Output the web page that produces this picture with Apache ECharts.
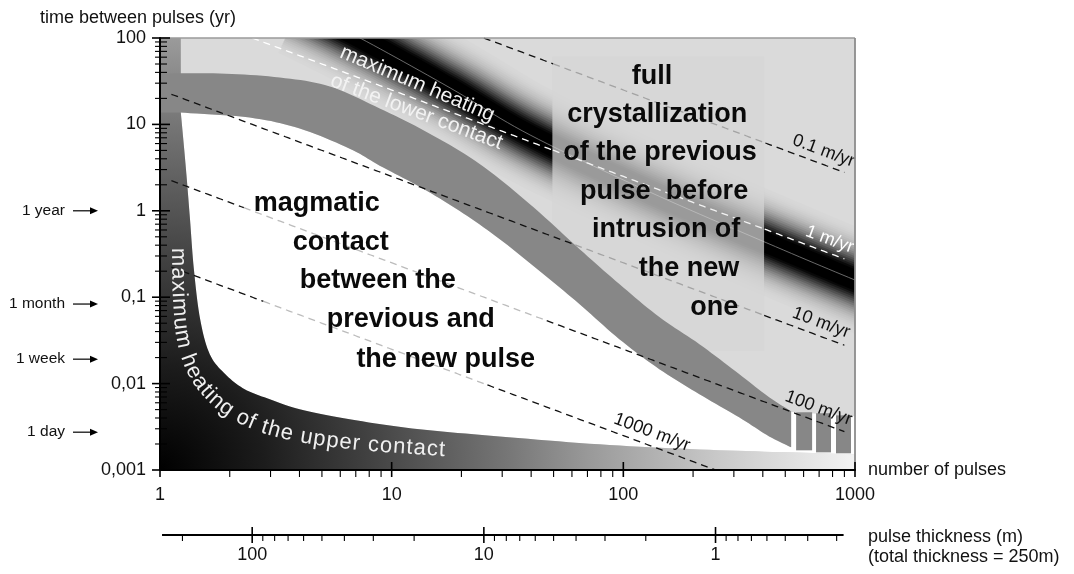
<!DOCTYPE html>
<html>
<head>
<meta charset="utf-8">
<script src="https://cdn.jsdelivr.net/npm/echarts@6/dist/echarts.min.js"></script>
<style>
  html, body { margin: 0; padding: 0; background: #fff; }
  #chart { width: 1074px; height: 574px; }
</style>
</head>
<body>
<div id="chart"></div>
<script>
// ---- axes ----
const xTickValues = [1, 10, 100, 1000];
const xTickLabels = ['1', '10', '100', '1000'];
const yTickValues = [0.001, 0.01, 0.1, 1, 10, 100];
const yTickLabels = ['0,001', '0,01', '0,1', '1', '10', '100'];
const thicknessTickValues = [100, 10, 1];
const thicknessTickLabels = ['100', '10', '1'];
const totalThickness = 250; // m

// ---- emplacement rates: time between pulses = (250 m / N) / rate ----
const rates = [0.1, 1, 10, 100, 1000];
const rateLabels = ['0.1 m/yr', '1 m/yr', '10 m/yr', '100 m/yr', '1000 m/yr'];
const rateStartN = [25, 2.5, 1.12, 1.12, 1.12];
const rateEndN = [900, 900, 900, 900, 250];
const rateLabelN = [700, 743, 683, 665, 127];

// ---- crystallisation band: [number of pulses, years] ----
const bandUpper = [[1, 38.8], [1.81, 38.8], [3.29, 34.9], [5.41, 27.5], [8.88, 15.3], [14.6, 7.82],
  [23.9, 3.51], [39.3, 1.21], [64.6, 0.362], [96.1, 0.142], [143, 0.0589], [213, 0.0286],
  [316, 0.0129], [426, 0.00695], [530, 0.00479]];
const bandLower = [[1.23, 13.7], [2.44, 12.0], [4.01, 8.94], [6.59, 5.24], [8.88, 3.33], [13.2, 1.90],
  [19.6, 1.0], [29.2, 0.473], [43.5, 0.201], [64.6, 0.0834], [96.1, 0.0327], [143, 0.0147],
  [213, 0.00754], [316, 0.00407], [426, 0.00245], [530, 0.00183]];
// blocks beyond the band end: [N from, N to, years low, years high]
const bandBlocks = [[557, 653, 0.00169, 0.00466], [679, 788, 0.00160, 0.00454], [828, 961, 0.00156, 0.00430]];
// top of the open (magmatic contact) field right of the band end
const openTop = [[530, 0.0047], [1000, 0.0042]];

// ---- inner edge of the upper-contact heating zone ----
const upperContactTop = [[1.23, 100]];
const upperContactEdge = [[1.23, 13.7], [1.294, 3.07], [1.347, 0.807], [1.40, 0.212],
  [1.49, 0.0558], [1.64, 0.0219], [1.91, 0.0129], [2.32, 0.00861], [2.98, 0.00659], [4.01, 0.00505],
  [6.59, 0.00386], [13.2, 0.00296], [29.2, 0.00245], [78.8, 0.00198], [213, 0.00173],
  [519, 0.00160], [1000, 0.00152]];

// ---- axis of maximum heating of the lower contact ----
const lowerContactAxis = [[4.02, 222], [7.30, 100], [17.9, 26.4], [39.6, 7.54], [130, 1.65],
  [417, 0.424], [1000, 0.158], [1910, 0.0791]];

// ---- time marks on the left ----
const timeMarks = ['1 year', '1 month', '1 week', '1 day'];
const timeMarkValues = [1, 1 / 12, 7 / 365, 1 / 365];

// ---- texts ----
const magmaticText = ['magmatic', 'contact', 'between the', 'previous and', 'the new pulse'];
const crystText = ['full', 'crystallization', 'of the previous', 'pulse  before', 'intrusion of', 'the new', 'one'];
const lowerContactText = ['maximum heating', 'of the lower contact'];
const upperContactText = 'maximum heating of the upper contact';

// ---- placement of annotations (data coordinates) ----
const layout = {
  crystBox: [[49.4, 61.2], [405, 0.0238]],
  magWash: [[2.21, 1.80], [45.7, 1.80], [45.7, 0.0098], [3.29, 0.0098]],
  magmaticAnchors: [[4.75, 1.21], [6.03, 0.425], [8.71, 0.154], [12.1, 0.0544], [17.1, 0.0192]],
  crystAnchors: [[133, 35.4], [140, 12.9], [144, 4.67], [150, 1.69], [153, 0.600], [192, 0.212], [247, 0.075]],
  lowerContactAnchors: [[12.9, 29.4], [12.8, 13.9]],
  lowerContactAngles: [23, 20.5],
  upperContactPath: [[1.115, 0.371], [1.127, 0.0929], [1.172, 0.0320], [1.294, 0.0136], [1.532, 0.0070],
    [1.964, 0.0040], [2.70, 0.00268], [4.01, 0.00205], [6.59, 0.00170], [10.8, 0.00153], [16.9, 0.00141]],
  rateLabelOffset: 13,
  thicknessAxisOffset: 65
};

const FONT = '"Liberation Sans", Arial, Helvetica, sans-serif';
const lg = Math.log10;
const mctx = document.createElement('canvas').getContext('2d');
function textWidth(s, size, weight) {
  mctx.font = (weight || 'normal') + ' ' + size + 'px ' + FONT;
  return mctx.measureText(s).width;
}
function interpLogT(arr, N) {
  const x = lg(N);
  if (x < lg(arr[0][0]) || x > lg(arr[arr.length - 1][0])) return null;
  for (let i = 0; i < arr.length - 1; i++) {
    const x0 = lg(arr[i][0]), x1 = lg(arr[i + 1][0]);
    if (x >= x0 && x <= x1) {
      const f = x1 === x0 ? 0 : (x - x0) / (x1 - x0);
      return lg(arr[i][1]) + f * (lg(arr[i + 1][1]) - lg(arr[i][1]));
    }
  }
  return null;
}
function inPoly(p, poly) {
  let inside = false;
  for (let i = 0, j = poly.length - 1; i < poly.length; j = i++) {
    const xi = poly[i][0], yi = poly[i][1], xj = poly[j][0], yj = poly[j][1];
    if (((yi > p[1]) !== (yj > p[1])) && (p[0] < (xj - xi) * (p[1] - yi) / (yj - yi) + xi)) inside = !inside;
  }
  return inside;
}
// Catmull-Rom curve through screen points
function curve(pts, n) {
  n = n || 10;
  if (pts.length < 3) return pts.slice();
  const out = [];
  for (let i = 0; i < pts.length - 1; i++) {
    const p0 = pts[Math.max(0, i - 1)], p1 = pts[i], p2 = pts[i + 1], p3 = pts[Math.min(pts.length - 1, i + 2)];
    for (let k = 0; k < n; k++) {
      const t = k / n, t2 = t * t, t3 = t2 * t;
      out.push([0, 1].map(d => 0.5 * ((2 * p1[d]) + (-p0[d] + p2[d]) * t +
        (2 * p0[d] - 5 * p1[d] + 4 * p2[d] - p3[d]) * t2 + (-p0[d] + 3 * p1[d] - 3 * p2[d] + p3[d]) * t3)));
    }
  }
  out.push(pts[pts.length - 1]);
  return out;
}
function tickLabel(values, labels) {
  return function (v) {
    for (let i = 0; i < values.length; i++) {
      if (Math.abs(lg(v) - lg(values[i])) < 1e-6) return labels[i];
    }
    return '';
  };
}
const one = [[1, 1]];
function customSeries(z, renderItem, extra) {
  return Object.assign({
    type: 'custom', coordinateSystem: 'cartesian2d', xAxisIndex: 0, yAxisIndex: 0,
    data: one, z: z, silent: true, animation: false, renderItem: renderItem
  }, extra || {});
}
const toPx = (api, arr) => arr.map(p => api.coord(p));

// soft dark ridge of maximum lower-contact heating
function renderLowerContact(params, api) {
  const pts = curve(toPx(api, lowerContactAxis), 12);
  const children = [];
  const profile = d => Math.min(1, 1.2 * Math.exp(-Math.pow(d / 23, 2)));
  let prevT = 1;
  for (let w = 50; w >= 2; w -= 2) {
    const T = 1 - profile(w - 1);
    const alpha = w <= 4 ? 1 : Math.max(0, 1 - T / prevT);
    prevT = T;
    if (alpha <= 0.001) continue;
    children.push({
      type: 'polyline', shape: { points: pts },
      style: { stroke: 'rgba(0,0,0,' + alpha.toFixed(4) + ')', lineWidth: 2 * w, fill: null, lineJoin: 'round' }
    });
    if (prevT <= 0) break;
  }
  children.push({ type: 'polyline', shape: { points: pts },
    style: { stroke: 'rgba(150,150,150,0.7)', lineWidth: 1, fill: null } });
  return { type: 'group', children: children };
}

function renderCrystBox(params, api) {
  const a = api.coord(layout.crystBox[0]), b = api.coord(layout.crystBox[1]);
  return { type: 'rect', shape: { x: a[0], y: a[1], width: b[0] - a[0], height: b[1] - a[1] },
    style: { fill: 'rgba(213,213,213,0.72)' } };
}

function renderOpenField(params, api) {
  const lower = curve(toPx(api, bandLower));
  const inner = curve(toPx(api, upperContactEdge)).reverse();
  const pts = lower.concat(toPx(api, openTop), inner);
  return { type: 'polygon', shape: { points: pts }, style: { fill: '#ffffff' } };
}

function renderUpperContact(params, api) {
  const pts = toPx(api, [[1, 100]].concat(upperContactTop))
    .concat(curve(toPx(api, upperContactEdge)), toPx(api, [[1000, 0.001], [1, 0.001]]));
  const c = api.coord([1, 0.001]);
  const e = api.coord([1000, 0.001]);
  const r = Math.abs(e[0] - c[0]);
  const grad = new echarts.graphic.RadialGradient(c[0], c[1], r, [
    { offset: 0, color: '#000000' }, { offset: 0.15, color: '#1c1c1c' }, { offset: 0.3, color: '#414141' },
    { offset: 0.5, color: '#767676' }, { offset: 0.62, color: '#9a9a9a' }, { offset: 0.8, color: '#c8c8c8' },
    { offset: 1, color: '#f3f3f3' }], true);
  return { type: 'polygon', shape: { points: pts }, style: { fill: grad } };
}

function renderBand(params, api) {
  const upper = curve(toPx(api, bandUpper));
  const lower = curve(toPx(api, bandLower)).reverse();
  const pts = upper.concat(lower, [api.coord([1, 13.7])]);
  const children = [{ type: 'polygon', shape: { points: pts }, style: { fill: '#878787' } }];
  bandBlocks.forEach(b => {
    const a = api.coord([b[0], b[3]]), c = api.coord([b[1], b[2]]);
    children.push({ type: 'rect', shape: { x: a[0], y: a[1], width: c[0] - a[0], height: c[1] - a[1] },
      style: { fill: '#878787' } });
  });
  return { type: 'group', children: children };
}

// dashed iso-rate lines, lighter where they run under the text boxes
function renderRates(params, api) {
  const i = params.dataIndex;
  const r = rates[i];
  const white = r === 1;
  const magPoly = toPx(api, layout.magWash);
  const c0 = api.coord(layout.crystBox[0]), c1 = api.coord(layout.crystBox[1]);
  const steps = 260;
  const a = lg(rateStartN[i]), b = lg(rateEndN[i]);
  const runs = [];
  let cur = null;
  for (let k = 0; k <= steps; k++) {
    const N = Math.pow(10, a + (b - a) * k / steps);
    const t = totalThickness / (N * r);
    const p = api.coord([N, t]);
    const lt = lg(t);
    const lo = interpLogT(bandLower, N), up = interpLogT(bandUpper, N);
    let state = 0;
    if (inPoly(p, magPoly) && lo !== null && lt < lo) state = 1;
    else if (p[0] >= c0[0] && p[0] <= c1[0] && p[1] >= c0[1] && p[1] <= c1[1] && (up === null || lt > up)) state = 2;
    if (!cur || cur.state !== state) {
      if (cur) cur.pts.push(p);
      cur = { state: state, pts: [p] };
      runs.push(cur);
    } else cur.pts.push(p);
  }
  const colors = white ? ['#ffffff', '#ffffff', '#f2f2f2'] : ['#111111', '#bcbcbc', '#a3a3a3'];
  const children = runs.map(run => ({
    type: 'polyline', shape: { points: run.pts },
    style: { stroke: colors[run.state], lineWidth: 1.3, lineDash: [7, 5], fill: null }
  }));
  // label along the line
  const N = rateLabelN[i];
  const t = totalThickness / (N * r);
  const p = api.coord([N, t]);
  const q = api.coord([N * 1.2, t / 1.2]);
  let dx = q[0] - p[0], dy = q[1] - p[1];
  const len = Math.hypot(dx, dy); dx /= len; dy /= len;
  const off = layout.rateLabelOffset;
  children.push({
    type: 'text', x: p[0] + dy * off, y: p[1] - dx * off, rotation: -Math.atan2(dy, dx),
    style: { text: rateLabels[i], fill: white ? '#ffffff' : '#111111', fontSize: 18, fontFamily: FONT,
      align: 'center', verticalAlign: 'middle' }
  });
  return { type: 'group', children: children };
}

function renderTexts(params, api) {
  const children = [];
  magmaticText.forEach((s, k) => {
    const p = api.coord(layout.magmaticAnchors[k]);
    children.push({ type: 'text', x: p[0], y: p[1], style: { text: s, fill: '#0a0a0a', fontSize: 27,
      fontWeight: 'bold', fontFamily: FONT, align: 'center', verticalAlign: 'middle' } });
  });
  crystText.forEach((s, k) => {
    const p = api.coord(layout.crystAnchors[k]);
    children.push({ type: 'text', x: p[0], y: p[1], style: { text: s, fill: '#0a0a0a', fontSize: 27,
      fontWeight: 'bold', fontFamily: FONT, align: 'center', verticalAlign: 'middle' } });
  });
  lowerContactText.forEach((s, k) => {
    const p = api.coord(layout.lowerContactAnchors[k]);
    children.push({ type: 'text', x: p[0], y: p[1], rotation: -layout.lowerContactAngles[k] * Math.PI / 180,
      style: { text: s, fill: '#f2f2f2', fontSize: 21, fontFamily: FONT, align: 'center', verticalAlign: 'middle' } });
  });
  // text bent along the upper-contact zone
  const pts = curve(toPx(api, layout.upperContactPath), 8);
  const cum = [0];
  for (let k = 1; k < pts.length; k++) cum.push(cum[k - 1] + Math.hypot(pts[k][0] - pts[k - 1][0], pts[k][1] - pts[k - 1][1]));
  const total = cum[cum.length - 1];
  const at = s => {
    s = Math.max(0, Math.min(total, s));
    let k = 1;
    while (k < cum.length - 1 && cum[k] < s) k++;
    const f = (s - cum[k - 1]) / ((cum[k] - cum[k - 1]) || 1);
    return [pts[k - 1][0] + f * (pts[k][0] - pts[k - 1][0]), pts[k - 1][1] + f * (pts[k][1] - pts[k - 1][1])];
  };
  const size = 22;
  const chars = upperContactText.split('');
  const widths = chars.map(c => textWidth(c, size));
  const sumW = widths.reduce((x, y) => x + y, 0);
  const gap = Math.min(1.5, Math.max(0, (total - sumW) / (chars.length - 1)));
  let s = 0;
  chars.forEach((c, k) => {
    const w = widths[k];
    const pA = at(s), pB = at(s + w), pM = at(s + w / 2);
    let dx = pB[0] - pA[0], dy = pB[1] - pA[1];
    const len = Math.hypot(dx, dy) || 1; dx /= len; dy /= len;
    if (c !== ' ') {
      children.push({ type: 'text', x: pM[0] + dy * size * 0.32, y: pM[1] - dx * size * 0.32,
        rotation: -Math.atan2(dy, dx),
        style: { text: c, fill: '#f0f0f0', fontSize: size, fontFamily: FONT, align: 'center', verticalAlign: 'middle' } });
    }
    s += w + gap;
  });
  return { type: 'group', children: children };
}

// frame, tick marks, pulse-thickness scale and time marks
function renderFrame(params, api) {
  const cs = params.coordSys;
  const x0 = cs.x, yb = cs.y + cs.height, xr = cs.x + cs.width;
  const ch = [];
  const L = (x1, y1, x2, y2, w, c) => ch.push({ type: 'line', shape: { x1: x1, y1: y1, x2: x2, y2: y2 },
    style: { stroke: c || '#000', lineWidth: w || 1.1 } });
  L(x0, cs.y, xr, cs.y, 1.6, '#9a9a9a');
  L(xr, cs.y, xr, yb, 1.8, '#8c8c8c');
  yTickValues.forEach((v, k) => {
    const y = api.coord([1, v])[1];
    L(x0 - 8, y, x0 + 10, y, 1.6);
    if (k < yTickValues.length - 1) for (let m = 2; m <= 9; m++) {
      const yy = api.coord([1, m * v])[1];
      L(x0 - 5, yy, x0 + 7, yy, 1.1);
    }
  });
  xTickValues.forEach((v, k) => {
    const x = api.coord([v, 1])[0];
    L(x, yb - 8, x, yb + 7, 1.6);
    if (k < xTickValues.length - 1) for (let m = 2; m <= 9; m++) {
      const xx = api.coord([m * v, 1])[0];
      L(xx, yb, xx, yb + 7, 1.1);
    }
  });
  const ya = yb + layout.thicknessAxisOffset;
  const xs = api.coord([totalThickness / 245, 1])[0], xe = api.coord([totalThickness / 0.28, 1])[0];
  L(xs, ya, xe, ya, 1.8);
  thicknessTickValues.forEach(v => {
    const x = api.coord([totalThickness / v, 1])[0];
    L(x, ya - 8, x, ya + 8, 1.6);
  });
  const minorTh = [200];
  [100, 10, 1].forEach(d => { for (let m = 9; m >= 2; m--) { const v = m * d / 10; if (v >= 0.3) minorTh.push(v); } });
  minorTh.forEach(v => {
    const x = api.coord([totalThickness / v, 1])[0];
    L(x, ya, x, ya + 6, 1.1);
  });
  timeMarks.forEach((s, k) => {
    const y = api.coord([1, timeMarkValues[k]])[1];
    ch.push({ type: 'text', x: 65, y: y, style: { text: s, fill: '#111', fontSize: 15.5, fontFamily: FONT,
      align: 'right', verticalAlign: 'middle' } });
    L(73, y, 91, y, 1.2);
    ch.push({ type: 'polygon', shape: { points: [[90, y - 3.5], [98, y], [90, y + 3.5]] }, style: { fill: '#000' } });
  });
  return { type: 'group', children: ch };
}

const chart = echarts.init(document.getElementById('chart'), null, { renderer: 'canvas' });
chart.setOption({
  animation: false,
  backgroundColor: '#ffffff',
  textStyle: { fontFamily: FONT },
  grid: { left: 160, top: 38, width: 695, height: 432, show: true, backgroundColor: '#dadada', borderWidth: 0 },
  xAxis: [
    {
      type: 'log', min: 1, max: 1000, z: 20,
      axisLine: { lineStyle: { color: '#000', width: 2 } },
      axisTick: { show: false }, splitLine: { show: false },
      axisLabel: { formatter: tickLabel(xTickValues, xTickLabels), color: '#111', fontSize: 18, margin: 16 },
      name: 'number of pulses', nameLocation: 'end', nameGap: 13,
      nameTextStyle: { color: '#111', fontSize: 18, align: 'left', verticalAlign: 'middle' }
    },
    {
      type: 'log', min: totalThickness / 1000, max: totalThickness, inverse: true, position: 'bottom',
      offset: 65, z: 20,
      axisLine: { show: false }, axisTick: { show: false }, splitLine: { show: false },
      axisLabel: { formatter: tickLabel(thicknessTickValues, thicknessTickLabels), color: '#111', fontSize: 18, margin: 11 }
    }
  ],
  yAxis: {
    type: 'log', min: 0.001, max: 100, z: 20,
    axisLine: { lineStyle: { color: '#000', width: 2 } },
    axisTick: { show: false }, splitLine: { show: false },
    axisLabel: { formatter: tickLabel(yTickValues, yTickLabels), color: '#111', fontSize: 18, margin: 14 }
  },
  graphic: [
    { type: 'text', x: 40, y: 18, style: { text: 'time between pulses (yr)', fill: '#111', fontSize: 18,
      fontFamily: FONT, align: 'left', verticalAlign: 'middle' } },
    { type: 'text', x: 868, y: 537, style: { text: 'pulse thickness (m)', fill: '#111', fontSize: 18,
      fontFamily: FONT, align: 'left', verticalAlign: 'middle' } },
    { type: 'text', x: 868, y: 557, style: { text: '(total thickness = 250m)', fill: '#111', fontSize: 18,
      fontFamily: FONT, align: 'left', verticalAlign: 'middle' } }
  ],
  series: [
    customSeries(2, renderLowerContact, { clip: true }),
    customSeries(3, renderCrystBox),
    customSeries(4, renderOpenField),
    customSeries(5, renderUpperContact),
    customSeries(6, renderBand),
    customSeries(7, renderRates, { data: rates.map((r, k) => [rateLabelN[k], totalThickness / (rateLabelN[k] * r)]) }),
    customSeries(8, renderTexts),
    customSeries(9, renderFrame)
  ]
});
</script>
</body>
</html>
